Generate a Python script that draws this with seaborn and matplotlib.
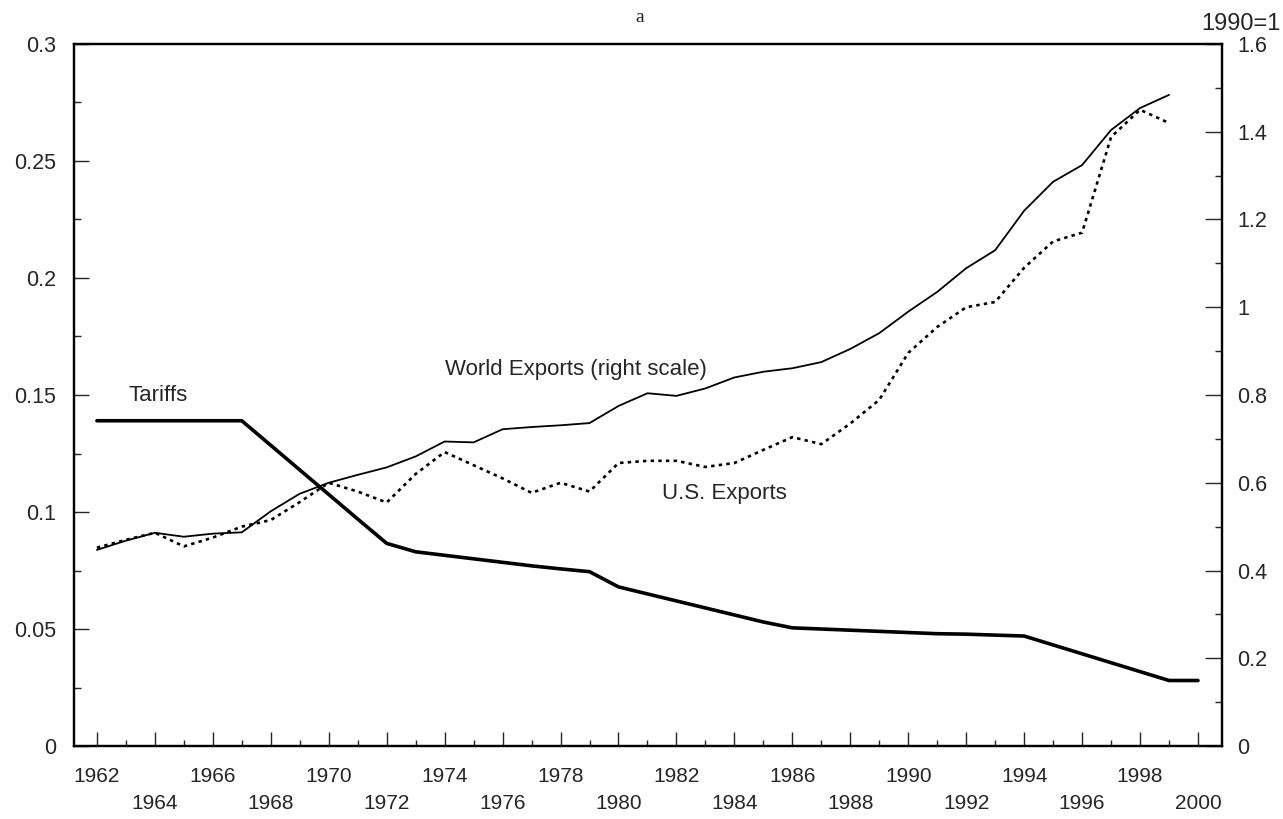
import numpy as np
import pandas as pd
import seaborn as sns
import matplotlib.pyplot as plt
from matplotlib.ticker import MultipleLocator, FuncFormatter

# values
years = list(range(1962, 2001))
tariffs = [0.139, 0.139, 0.139, 0.139, 0.139, 0.139, 0.1285, 0.118, 0.1075, 0.097,
           0.0866, 0.083, 0.0815, 0.080, 0.0785, 0.077, 0.0757, 0.0745, 0.068, 0.065,
           0.062, 0.059, 0.056, 0.053, 0.0505, 0.050, 0.0495, 0.049, 0.0485, 0.048,
           0.0478, 0.0474, 0.047, 0.0432, 0.0394, 0.0356, 0.0318, 0.028, 0.028]
world_years = list(range(1962, 2000))
world_exports = [0.447, 0.468, 0.486, 0.477, 0.484, 0.487, 0.535, 0.575, 0.600, 0.618,
                 0.635, 0.660, 0.694, 0.692, 0.722, 0.727, 0.731, 0.736, 0.775, 0.804,
                 0.798, 0.815, 0.840, 0.853, 0.861, 0.875, 0.905, 0.941, 0.990, 1.035,
                 1.089, 1.130, 1.220, 1.286, 1.324, 1.404, 1.454, 1.484]
us_exports = [0.452, 0.470, 0.486, 0.455, 0.475, 0.500, 0.515, 0.556, 0.600, 0.580,
              0.555, 0.620, 0.670, 0.640, 0.610, 0.577, 0.600, 0.580, 0.645, 0.650,
              0.650, 0.636, 0.645, 0.675, 0.704, 0.688, 0.735, 0.789, 0.896, 0.955,
              1.000, 1.012, 1.090, 1.150, 1.170, 1.388, 1.450, 1.420]

df_t = pd.DataFrame({"year": years, "value": tariffs})
df_w = pd.DataFrame({"year": world_years, "world": world_exports, "us": us_exports})

sns.set_style("ticks")
plt.rcParams['font.family'] = ['Liberation Sans', 'DejaVu Sans']

fig = plt.figure(figsize=(12.83, 8.19), dpi=100)
ax = fig.add_axes([0.0577, 0.0891, 0.8948, 0.8572])
ax2 = ax.twinx()

sns.lineplot(df_t, x="year", y="value", ax=ax, color="black", linewidth=2.6)
sns.lineplot(df_w, x="year", y="world", ax=ax2, color="black", linewidth=1.3)
sns.lineplot(df_w, x="year", y="us", ax=ax2, color="black", linewidth=1.9,
             linestyle=(0, (1.3, 1.6)))

ax.set_xlim(1961.21, 2000.83)
ax.set_ylim(0, 0.3)
ax2.set_ylim(0, 1.6)
ax.set_xlabel("")
ax.set_ylabel("")
ax2.set_ylabel("")

fmt = FuncFormatter(lambda v, p: f"{v:g}")
ax.yaxis.set_major_locator(MultipleLocator(0.05))
ax.yaxis.set_minor_locator(MultipleLocator(0.025))
ax.yaxis.set_major_formatter(fmt)
ax2.yaxis.set_major_locator(MultipleLocator(0.2))
ax2.yaxis.set_minor_locator(MultipleLocator(0.1))
ax2.yaxis.set_major_formatter(fmt)

xt = list(range(1962, 2001, 2))
ax.set_xticks(xt)
ax.set_xticklabels([str(y) if i % 2 == 0 else "\n" + str(y) for i, y in enumerate(xt)],
                   linespacing=1.56)
ax.xaxis.set_minor_locator(MultipleLocator(1))

ax.tick_params(axis="x", which="major", direction="in", length=10, width=1,
               labelsize=15, pad=15, top=False)
ax.tick_params(axis="x", which="minor", direction="in", length=4, width=1, top=False)
ax.tick_params(axis="y", which="major", direction="in", length=11, width=1,
               labelsize=15.5, pad=13, right=False)
ax.tick_params(axis="y", which="minor", direction="in", length=5, width=1, right=False)
ax2.tick_params(axis="y", which="major", direction="in", length=12, width=1,
                labelsize=15.5, pad=11)
ax2.tick_params(axis="y", which="minor", direction="in", length=5, width=1)

for a in (ax, ax2):
    for s in a.spines.values():
        s.set_visible(True)
        s.set_linewidth(1.6)
        s.set_color("black")

ax.text(1963.1, 0.15, "Tariffs", fontsize=16, va="center", ha="left")
ax.text(1974.0, 0.1607, "World Exports (right scale)", fontsize=16, va="center", ha="left")
ax.text(1981.5, 0.1081, "U.S. Exports", fontsize=16, va="center", ha="left")

fig.text(640 / 1283, 1 - 18 / 819, "a", fontsize=14, ha="center", va="center",
         family=["Liberation Serif", "DejaVu Serif"])
fig.text(1281 / 1283, 1 - 24 / 819, "1990=1", fontsize=17, ha="right", va="center")

fig.savefig("out.png", dpi=100)
